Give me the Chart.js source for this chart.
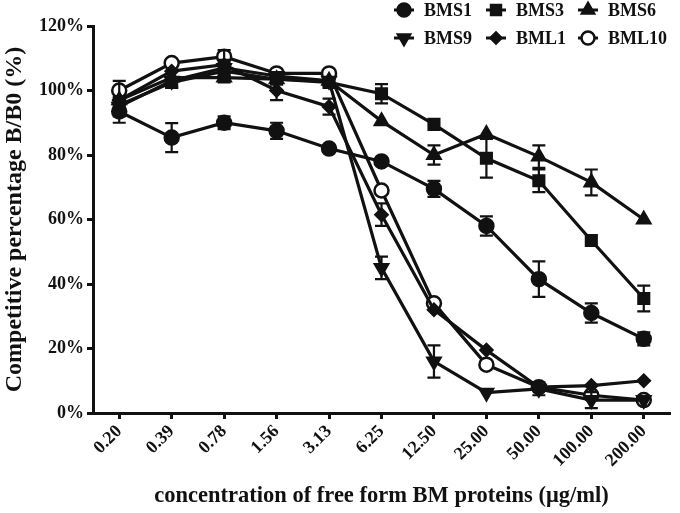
<!DOCTYPE html>
<html>
<head>
<meta charset="utf-8">
<script src="https://cdn.jsdelivr.net/npm/chart.js@4"></script>
<style>
  body { margin: 0; background: #fff; }
  #wrap { width: 680px; height: 513px; }
</style>
</head>
<body>
<div id="wrap"><canvas id="myChart" width="680" height="513"></canvas></div>
<script>
'use strict';
let concLabels = ['0.20', '0.39', '0.78', '1.56', '3.13', '6.25', '12.50', '25.00', '50.00', '100.00', '200.00'];
let seriesNames = ['BMS1', 'BMS3', 'BMS6', 'BMS9', 'BML1', 'BML10'];

let bms1 = [93.5, 85.4, 90, 87.5, 82, 78, 69.5, 58, 41.5, 31, 23];
let bms3 = [95.5, 102.5, 106, 103.5, 102.5, 99, 89.5, 79, 72, 53.5, 35.5];
let bms6 = [97, 104, 104, 103.5, 103, 90.5, 80, 86.5, 79.5, 71.5, 60];
let bms9 = [95, 103, 107, 104.5, 103, 45, 16, 6.3, 7.5, 4, 4];
let bml1 = [97, 106, 108, 100, 95, 61.5, 32, 19.5, 8, 8.5, 10];
let bml10 = [100, 108.5, 110.5, 105.3, 105.3, 69, 34, 15, 8, 5.5, 4];

// +/- error (percentage points), 0 = no visible bar
let bms1Err = [3.5, 4.5, 2, 2.5, 0, 0, 2.5, 3, 5.5, 3, 2];
let bms3Err = [2, 1.5, 2, 1, 1, 3, 0, 6, 3.5, 0, 4];
let bms6Err = [0, 0, 1.5, 0, 0, 0, 3, 0, 3.5, 4, 0];
let bms9Err = [3, 0, 2.5, 0, 0, 3.5, 5, 0, 2, 2.5, 0];
let bml1Err = [0, 0, 0, 3, 2.5, 3.5, 0, 0, 0, 0, 0];
let bml10Err = [3, 0, 2, 0, 0, 0, 0, 0, 0, 0, 0];

let yTicks = [0, 20, 40, 60, 80, 100, 120];

let allValues = [bms1, bms3, bms6, bms9, bml1, bml10];
let allErrors = [bms1Err, bms3Err, bms6Err, bms9Err, bml1Err, bml10Err];

let ink = '#111';
let serif = "'Liberation Serif', 'Times New Roman', serif";

// marker look per series
let markers = [
    { style: 'circle', radius: 7, fill: ink, rot: 0 },
    { style: 'rect', radius: 7.5, fill: ink, rot: 0 },
    { style: 'triangle', radius: 7.5, fill: ink, rot: 0 },
    { style: 'triangle', radius: 7.5, fill: ink, rot: 180 },
    { style: 'rectRot', radius: 6, fill: ink, rot: 0 },
    { style: 'circle', radius: 7, fill: '#fff', rot: 0 }
];

let datasets = [];
for (let i = 0; i < seriesNames.length; i++) {
    datasets.push({
        label: seriesNames[i],
        data: allValues[i],
        borderColor: ink,
        borderWidth: 3.2,
        tension: 0,
        pointStyle: markers[i].style,
        pointRadius: markers[i].radius,
        pointRotation: markers[i].rot,
        pointBackgroundColor: markers[i].fill,
        pointBorderColor: ink,
        pointBorderWidth: 2.5
    });
}

// error bars drawn through the scales
let errorBars = {
    id: 'errorBars',
    afterDatasetsDraw(chart) {
        let ctx = chart.ctx;
        let xs = chart.scales.x;
        let ys = chart.scales.y;
        ctx.save();
        ctx.strokeStyle = ink;
        ctx.lineWidth = 2.2;
        for (let i = 0; i < allValues.length; i++) {
            for (let j = 0; j < allValues[i].length; j++) {
                let e = allErrors[i][j];
                if (!e) continue;
                let x = xs.getPixelForValue(j);
                let top = ys.getPixelForValue(allValues[i][j] + e);
                let bot = ys.getPixelForValue(allValues[i][j] - e);
                ctx.beginPath();
                ctx.moveTo(x, top); ctx.lineTo(x, bot);
                ctx.moveTo(x - 6.5, top); ctx.lineTo(x + 6.5, top);
                ctx.moveTo(x - 6.5, bot); ctx.lineTo(x + 6.5, bot);
                ctx.stroke();
            }
        }
        ctx.restore();
    }
};

// two-row legend in the top right corner
let gridLegend = {
    id: 'gridLegend',
    afterDraw(chart) {
        let ctx = chart.ctx;
        let colX = [404, 496, 588];
        let rowY = [10, 38];
        ctx.save();
        ctx.font = 'bold 18px ' + serif;
        ctx.textBaseline = 'middle';
        for (let i = 0; i < seriesNames.length; i++) {
            let cx = colX[i % 3];
            let cy = rowY[Math.floor(i / 3)];
            ctx.strokeStyle = ink;
            ctx.lineWidth = 3;
            ctx.beginPath();
            ctx.moveTo(cx - 10, cy); ctx.lineTo(cx + 10, cy);
            ctx.stroke();
            ctx.fillStyle = markers[i].fill;
            ctx.lineWidth = 2.5;
            Chart.helpers.drawPoint(ctx, {
                pointStyle: markers[i].style,
                rotation: markers[i].rot,
                radius: markers[i].radius - 0.5,
                borderWidth: 2.5
            }, cx, cy);
            ctx.fillStyle = ink;
            ctx.fillText(seriesNames[i], cx + 20, cy + 1);
        }
        ctx.restore();
    }
};

let ctx = document.getElementById('myChart').getContext('2d');
let myChart = new Chart(ctx, {
    type: 'line',
    data: {
        labels: concLabels,
        datasets: datasets
    },
    plugins: [errorBars, gridLegend],
    options: {
        responsive: false,
        animation: false,
        layout: { padding: { top: 26, right: 3, left: 0, bottom: 0 } },
        plugins: {
            legend: { display: false },
            tooltip: { enabled: false }
        },
        scales: {
            x: {
                offset: true,
                afterFit(scale) { scale.height = 100; },
                border: { display: true, color: ink, width: 3 },
                grid: { drawOnChartArea: false, drawTicks: true, tickLength: 6, tickWidth: 3, tickColor: ink },
                ticks: {
                    color: ink,
                    minRotation: 45,
                    maxRotation: 45,
                    padding: 2,
                    font: { family: serif, size: 18, weight: 'bold' }
                },
                title: {
                    display: true,
                    text: 'concentration of free form BM proteins (μg/ml)',
                    color: ink,
                    padding: { top: 0, bottom: 3 },
                    font: { family: serif, size: 22.5, weight: 'bold' }
                }
            },
            y: {
                min: yTicks[0],
                max: yTicks[yTicks.length - 1],
                afterFit(scale) { scale.width = 93; },
                afterBuildTicks(scale) { scale.ticks = yTicks.map(v => ({ value: v })); },
                border: { display: true, color: ink, width: 3 },
                grid: { drawOnChartArea: false, drawTicks: true, tickLength: 6, tickWidth: 3, tickColor: ink },
                ticks: {
                    color: ink,
                    padding: 3,
                    callback: v => v + '%',
                    font: { family: serif, size: 18, weight: 'bold' }
                },
                title: {
                    display: true,
                    text: 'Competitive percentage B/B0 (%)',
                    color: ink,
                    padding: { top: 0, bottom: 2 },
                    font: { family: serif, size: 24, weight: 'bold' }
                }
            }
        }
    }
});
</script>
</body>
</html>
